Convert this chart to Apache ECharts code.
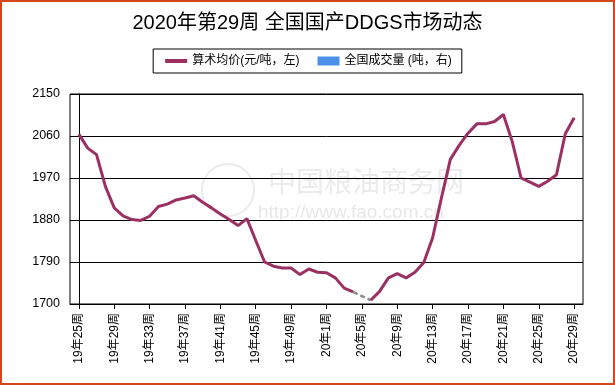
<!DOCTYPE html>
<html><head><meta charset="utf-8">
<script src="https://cdn.jsdelivr.net/npm/echarts@6/dist/echarts.min.js"></script>
<style>
html,body{margin:0;padding:0;background:#fff;}
#c{position:absolute;left:0;top:0;width:615px;height:385px;}
#b{position:absolute;left:0;top:0;width:615px;height:385px;box-sizing:border-box;border:2px solid #d4461b;pointer-events:none;}
</style>
</head><body><div id="c"></div><div id="b"></div>
<script>
const weeks = [
 '19年25周','19年26周','19年27周','19年28周','19年29周','19年30周','19年31周','19年32周',
 '19年33周','19年34周','19年35周','19年36周','19年37周','19年38周','19年39周','19年40周',
 '19年41周','19年42周','19年43周','19年44周','19年45周','19年46周','19年47周','19年48周',
 '19年49周','19年50周','19年51周','19年52周',
 '20年1周','20年2周','20年3周','20年4周','20年5周','20年6周','20年7周','20年8周',
 '20年9周','20年10周','20年11周','20年12周','20年13周','20年14周','20年15周','20年16周',
 '20年17周','20年18周','20年19周','20年20周','20年21周','20年22周','20年23周','20年24周',
 '20年25周','20年26周','20年27周','20年28周','20年29周'
];
const price = [
 2064,2034,2020,1952,1906,1889,1881,1879,
 1888,1909,1914,1923,1927,1932,1918,1906,
 1893,1881,1868,1883,1836,1790,1781,1777,
 1777,1763,1775,1768,
 1767,1756,1734,1726,null,1708,1727,1756,
 1765,1756,1768,1789,1842,1928,2010,2040,
 2066,2086,2086,2091,2106,2048,1970,1961,
 1952,1963,1977,2065,2099
];
const volume = [];
const yTicks = [1700,1790,1880,1970,2060,2150];
const xTickIdx = [0,4,8,12,16,20,24,28,32,36,40,44,48,52,56];

const FONT = '"Liberation Sans", Arial, "Noto Sans CJK SC", sans-serif';
const mainData = price.map((v,i)=>[i, v===null ? '-' : v]);
const gapData = [];
price.forEach((v,i)=>{ if(v===null && i>0 && i<price.length-1){ gapData.push([i-1,price[i-1]]); gapData.push([i+1,price[i+1]]); gapData.push([i+1,'-']); } });

const chart = echarts.init(document.getElementById('c'), null, {renderer:'canvas'});
chart.setOption({
  animation:false,
  backgroundColor:'#fff',
  textStyle:{fontFamily:FONT},
  title:{text:'2020年第29周 全国国产DDGS市场动态', left:'center', top:8,
    textStyle:{fontSize:20, fontWeight:'normal', color:'#000', fontFamily:FONT}},
  legend:{top:49, left:'center', borderColor:'#000', borderWidth:1, padding:[6,10],
    itemGap:18, itemWidth:22, itemHeight:9,
    textStyle:{fontSize:12, color:'#000', fontFamily:FONT},
    data:[{name:'算术均价(元/吨，左)', itemStyle:{opacity:0}, lineStyle:{width:4}},{name:'全国成交量 (吨，右)', icon:'rect'}]},
  graphic:[
    {type:'text', left:268, top:170, z:-1, style:{text:'中国粮油商务网', fontSize:28, fill:'#ebebeb', fontFamily:FONT}},
    {type:'text', left:258, top:203, z:-1, style:{text:'http://www.fao.com.cn', fontSize:19, fill:'#e8e8e8', fontFamily:FONT}},
    {type:'circle', shape:{cx:228, cy:190, r:26}, z:-1, style:{fill:'none', stroke:'#ebebeb', lineWidth:2}}
  ],
  grid:{left:70, right:32, top:94, bottom:81, show:true, borderColor:'#000', borderWidth:1, backgroundColor:'transparent'},
  xAxis:{type:'value', min:-1, max:57,
    axisLine:{lineStyle:{color:'#000', width:1}},
    axisTick:{show:true, length:5, lineStyle:{color:'#000'}, customValues:xTickIdx},
    axisLabel:{customValues:xTickIdx, rotate:90, margin:9, fontSize:12, color:'#000', fontFamily:FONT,
      formatter:(v)=>weeks[v]},
    splitLine:{show:false}},
  yAxis:[
    {type:'value', min:1700, max:2150,
     axisLine:{show:true, lineStyle:{color:'#000'}},
     axisTick:{show:true, length:7, lineStyle:{color:'#000'}, customValues:yTicks},
     axisLabel:{customValues:yTicks, margin:10, fontSize:12.5, color:'#000', fontFamily:FONT,
       formatter:(v)=>String(v)},
     splitLine:{show:true, lineStyle:{color:'#000', width:1}}},
    {type:'value', show:false}
  ],
  series:[
    {name:'算术均价(元/吨，左)', type:'line', data:mainData, showSymbol:false, symbol:'none',
     connectNulls:false, lineStyle:{color:'#9b3163', width:3}, itemStyle:{color:'#9b3163'}, z:3},
    {name:'gap', type:'line', data:gapData, showSymbol:false, symbol:'none',
     lineStyle:{color:'#8c8c8c', width:2.5, type:[5,3]}, z:2},
    {name:'全国成交量 (吨，右)', type:'bar', yAxisIndex:1, data:volume, itemStyle:{color:'#4a90e8'}}
  ]
});
</script>
</body></html>
